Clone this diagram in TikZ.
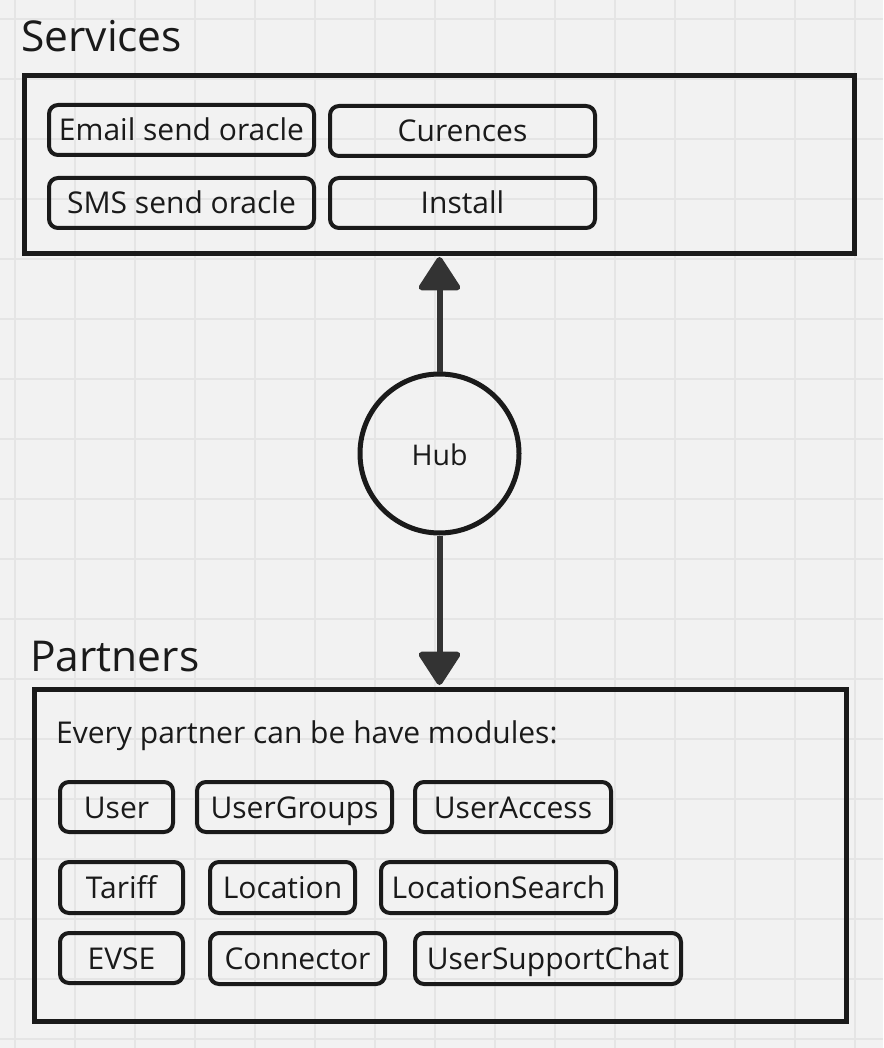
\documentclass[tikz,border=0pt]{standalone}
\usepackage{fontspec}
\setmainfont{Open Sans}
\usetikzlibrary{arrows.meta}
\definecolor{bg}{HTML}{F2F2F2}
\definecolor{gridc}{HTML}{E5E5E5}
\definecolor{ink}{HTML}{1A1A1A}
\definecolor{arrowc}{HTML}{333333}
\begin{document}
\begin{tikzpicture}[x=1pt,y=-1pt,
  modbox/.style={draw=ink, line width=4pt, rounded corners=9pt, inner sep=0pt, text=ink,
    font=\fontsize{30}{36}\selectfont, text height=22pt, text depth=0pt},
  groupbox/.style={draw=ink, line width=5pt, inner sep=0pt},
  title/.style={text=ink, font=\fontsize{42.5}{50}\selectfont, anchor=base west, inner sep=0pt},
  plain/.style={text=ink, font=\fontsize{30}{36}\selectfont, anchor=base west, inner sep=0pt},
  link/.style={draw=arrowc, line width=6pt, -{Triangle[round,length=36pt,width=45pt]}}
]
\fill[bg] (0,0) rectangle (883,1048);
\useasboundingbox (0,0) rectangle (883,1048);
\foreach \x in {15,75,...,855} \draw[gridc, line width=1.3pt] (\x,0) -- (\x,1048);
\foreach \y in {19,79,...,1039} \draw[gridc, line width=1.3pt] (0,\y) -- (883,\y);

% Services group
\node[title] (servicesTitle) at (21,52) {Services};
\node[groupbox, minimum width=829.5pt, minimum height=178pt] (services) at (439.25,164.5) {};
\node[modbox, minimum width=265pt, minimum height=50pt] (email) at (181.5,130) {Email send oracle};
\node[modbox, minimum width=265pt, minimum height=50pt] (sms) at (181.5,203) {SMS send oracle};
\node[modbox, minimum width=265pt, minimum height=50pt] (cur) at (462.5,131) {Curences};
\node[modbox, minimum width=265pt, minimum height=50pt] (inst) at (462.5,203) {Install};

% Hub
\node[circle, draw=ink, line width=5pt, minimum size=159pt, inner sep=0pt, text=ink,
  font=\fontsize{28.5}{34}\selectfont, text height=23pt, text depth=0pt] (hub) at (439.5,453.5) {Hub};

% Partners group
\node[title] (partnersTitle) at (30,671) {Partners};
\node[groupbox, minimum width=812pt, minimum height=332pt] (partners) at (440,855.5) {};
\node[plain] (intro) at (56,743) {Every partner can be have modules:};
\node[modbox, minimum width=113pt, minimum height=50pt] (user) at (116.5,807) {User};
\node[modbox, minimum width=195pt, minimum height=50pt] (ugroups) at (294.5,807) {UserGroups};
\node[modbox, minimum width=196pt, minimum height=50pt] (uaccess) at (513,807) {UserAccess};
\node[modbox, minimum width=123pt, minimum height=51pt] (tariff) at (121.5,887.5) {Tariff};
\node[modbox, minimum width=145pt, minimum height=51pt] (loc) at (282.5,887.5) {Location};
\node[modbox, minimum width=235pt, minimum height=51pt] (locs) at (498.5,887.5) {LocationSearch};
\node[modbox, minimum width=123pt, minimum height=50pt] (evse) at (121.5,958) {EVSE};
\node[modbox, minimum width=175pt, minimum height=51pt] (conn) at (297.5,958.5) {Connector};
\node[modbox, minimum width=266pt, minimum height=51pt] (chat) at (548,958.5) {UserSupportChat};

% Connectors
\draw[link, shorten >=1pt] (hub.north) -- (hub.north |- services.south);
\draw[link, shorten >=2pt] (hub.south) -- (hub.south |- partners.north);
\end{tikzpicture}
\end{document}
